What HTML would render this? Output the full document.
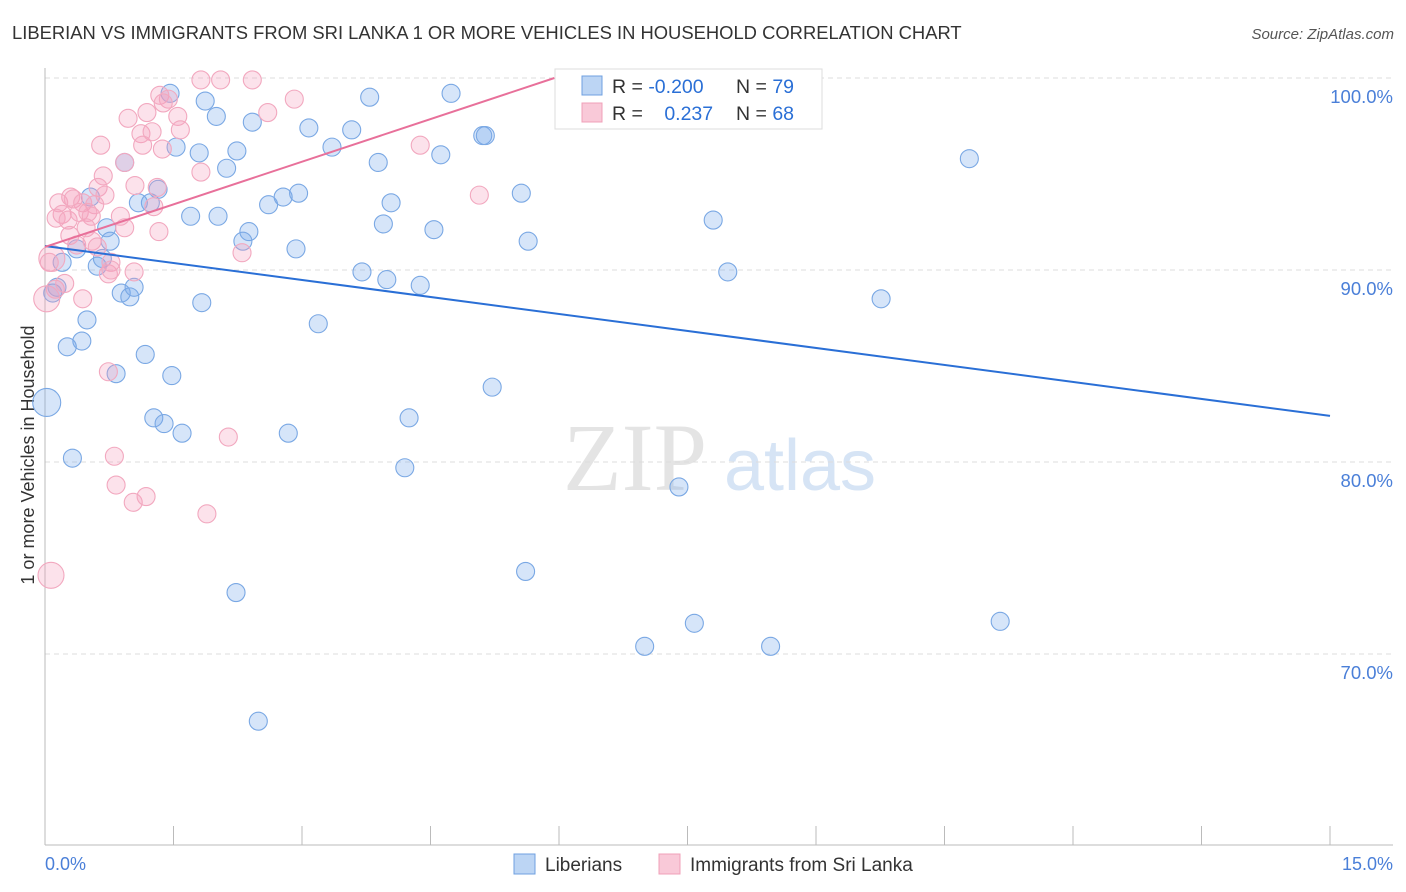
<!DOCTYPE html>
<html><head><meta charset="utf-8">
<style>
body{margin:0;background:#fff;font-family:"Liberation Sans",sans-serif;}
svg{display:block}
</style></head><body>
<svg id="chart" width="1406" height="892" xmlns="http://www.w3.org/2000/svg" font-family="Liberation Sans, sans-serif">
<text x="12" y="39" font-size="18.4" fill="#333">LIBERIAN VS IMMIGRANTS FROM SRI LANKA 1 OR MORE VEHICLES IN HOUSEHOLD CORRELATION CHART</text>
<text x="1394" y="39" font-size="15" fill="#555" text-anchor="end" font-style="italic">Source: ZipAtlas.com</text>
<text transform="translate(34,455) rotate(-90)" font-size="18" fill="#333" text-anchor="middle">1 or more Vehicles in Household</text>
<g>
<text x="635" y="490" font-size="96" fill="#e4e4e4" font-family="Liberation Serif, serif" text-anchor="middle">ZIP</text>
<text x="800" y="490" font-size="72" fill="#d6e4f5" text-anchor="middle">atlas</text>
</g>
<g id="grid"></g><g id="axes"></g><g id="pts"></g><g id="lines"></g>
<g>
<rect x="555" y="69" width="267" height="60" fill="#fff" stroke="#ddd"/>
<rect x="582" y="76" width="20" height="19" fill="#bcd5f4" stroke="#6fa0e0"/>
<rect x="582" y="103" width="20" height="19" fill="#f9c9d8" stroke="#f0a0b8"/>
<text x="612" y="93" font-size="19.5" fill="#333">R = <tspan fill="#2a6fd6">-0.200</tspan></text>
<text x="736" y="93" font-size="19.5" fill="#333">N = <tspan fill="#2a6fd6">79</tspan></text>
<text x="612" y="120" font-size="19.5" fill="#333">R = <tspan fill="#2a6fd6" dx="16">0.237</tspan></text>
<text x="736" y="120" font-size="19.5" fill="#333">N = <tspan fill="#2a6fd6">68</tspan></text>
</g>
<g>
<rect x="514" y="854" width="21" height="20" fill="#bcd5f4" stroke="#6fa0e0"/>
<text x="545" y="871" font-size="19" fill="#333">Liberians</text>
<rect x="659" y="854" width="21" height="20" fill="#f9c9d8" stroke="#f0a0b8"/>
<text x="690" y="871" font-size="19" fill="#333">Immigrants from Sri Lanka</text>
</g>
</svg>
<script>
const xTicks=[0,1.5,3,4.5,6,7.5,9,10.5,12,13.5,15];
const yTicks=[100,90,80,70];
const yTickLabels=["100.0%","90.0%","80.0%","70.0%"];
const xEndLabels=["0.0%","15.0%"];
const blueX=[1.46,1.87,2.00,2.42,3.08,3.58,3.79,4.74,5.11,5.14,3.89,4.62,3.35,2.24,1.80,2.12,1.53,0.93,1.32,1.23,1.09,1.70,2.02,2.61,2.78,2.96,4.04,3.95,4.54,5.56,5.64,7.80,7.97,10.79,9.76,2.38,2.31,2.93,3.70,3.99,4.38,0.72,0.76,0.53,0.37,0.20,0.61,0.67,0.14,0.09,0.89,0.99,1.04,1.83,3.19,0.49,0.43,0.26,1.17,0.83,1.48,5.22,0.02,1.27,1.39,1.60,2.84,4.25,0.32,4.20,7.40,5.61,2.23,7.58,11.15,7.00,8.47,2.49,6.23];
const blueY=[99.2,98.8,98.0,97.7,97.4,97.3,99.0,99.2,97.0,97.0,95.6,96.0,96.4,96.2,96.1,95.3,96.4,95.6,94.2,93.5,93.5,92.8,92.8,93.4,93.8,94.0,93.5,92.4,92.1,94.0,91.5,92.6,89.9,95.8,88.5,92.0,91.5,91.1,89.9,89.5,89.2,92.2,91.5,93.8,91.1,90.4,90.2,90.6,89.1,88.8,88.8,88.6,89.1,88.3,87.2,87.4,86.3,86.0,85.6,84.6,84.5,83.9,83.1,82.3,82.0,81.5,81.5,82.3,80.2,79.7,78.7,74.3,73.2,71.6,71.7,70.4,70.4,66.5,99.9];
const blueBig=[62];
const pinkX=[1.82,2.05,2.42,1.34,1.44,2.91,1.19,0.97,1.55,2.60,0.65,1.12,1.25,1.58,1.14,1.37,0.93,1.82,0.68,0.62,1.31,1.05,0.70,0.30,0.16,0.33,0.44,0.58,0.20,0.13,0.27,0.40,0.50,0.54,0.88,1.27,4.38,5.07,0.48,0.29,0.37,0.55,0.61,0.93,1.33,2.30,0.08,0.05,0.77,0.74,1.04,0.44,0.02,0.74,2.14,0.81,0.83,1.03,1.18,1.89,0.07,0.12,0.23,0.77,1.38];
const pinkY=[99.9,99.9,99.9,99.1,98.9,98.9,98.2,97.9,98.0,98.2,96.5,97.1,97.2,97.3,96.5,96.3,95.6,95.1,94.9,94.3,94.3,94.4,93.9,93.8,93.5,93.7,93.5,93.4,92.9,92.7,92.6,93.0,93.0,92.8,92.8,93.3,96.5,93.9,92.2,91.8,91.3,91.5,91.2,92.2,92.0,90.9,90.6,90.4,90.4,89.8,89.9,88.5,88.5,84.7,81.3,80.3,78.8,77.9,78.2,77.3,74.1,89.0,89.3,90.0,98.7];
const pinkBig=[46,52,60];
const blueTrend=[91.25,-0.59];
const pinkTrend=[91.2,1.48];
const X0=45,X1=1330,Y100=78,PXY=19.2;
const sx=v=>X0+(v/15)*(X1-X0);
const sy=v=>Y100+(100-v)*PXY;
const NS="http://www.w3.org/2000/svg";
function mk(tag,attrs,parent){const e=document.createElementNS(NS,tag);for(const k in attrs)e.setAttribute(k,attrs[k]);document.getElementById(parent).appendChild(e);return e;}
yTicks.forEach((t,i)=>{
 const g=mk('line',{x1:X0,x2:1393,y1:sy(t),y2:sy(t),stroke:'#ddd','stroke-dasharray':'5,4'},'grid');
 
 
 const l=mk('text',{x:1393,y:sy(t)+25,'font-size':18.5,fill:'#4a7fd8','text-anchor':'end'},'grid');
 l.textContent=yTickLabels[i];
 
 
});
const ax=mk('line',{x1:X0,x2:X0,y1:68,y2:845,stroke:'#bbb'},'axes');


const bx=mk('line',{x1:X0,x2:1393,y1:845,y2:845,stroke:'#bbb'},'axes');


xTicks.forEach(t=>{
 const tk=mk('line',{x1:sx(t),x2:sx(t),y1:826,y2:845,stroke:'#bbb'},'axes');
 
 
});
const xl0=mk('text',{x:45,y:870,'font-size':18,fill:'#4a7fd8'},'axes');xl0.textContent=xEndLabels[0];


const xl1=mk('text',{x:1393,y:870,'font-size':18,fill:'#4a7fd8','text-anchor':'end'},'axes');xl1.textContent=xEndLabels[1];


blueX.forEach((x,i)=>{
 const c=mk('circle',{cx:sx(x),cy:sy(blueY[i]),r:blueBig.includes(i)?14:9,fill:'rgba(120,170,235,0.3)',stroke:'#7aa8e4','stroke-width':1.1},'pts');
 
 
});
pinkX.forEach((x,i)=>{
 const c=mk('circle',{cx:sx(x),cy:sy(pinkY[i]),r:pinkBig.includes(i)?13:9,fill:'rgba(245,160,190,0.3)',stroke:'#f2a8bf','stroke-width':1.1},'pts');
 
 
});
const bl=mk('line',{x1:sx(0),y1:sy(blueTrend[0]),x2:sx(15),y2:sy(blueTrend[0]+15*blueTrend[1]),stroke:'#2a6fd6','stroke-width':2},'lines');


const pEnd=(100-pinkTrend[0])/pinkTrend[1];
const pl=mk('line',{x1:sx(0),y1:sy(pinkTrend[0]),x2:sx(pEnd),y2:sy(100),stroke:'#e8709a','stroke-width':2},'lines');


</script>
</body></html>
